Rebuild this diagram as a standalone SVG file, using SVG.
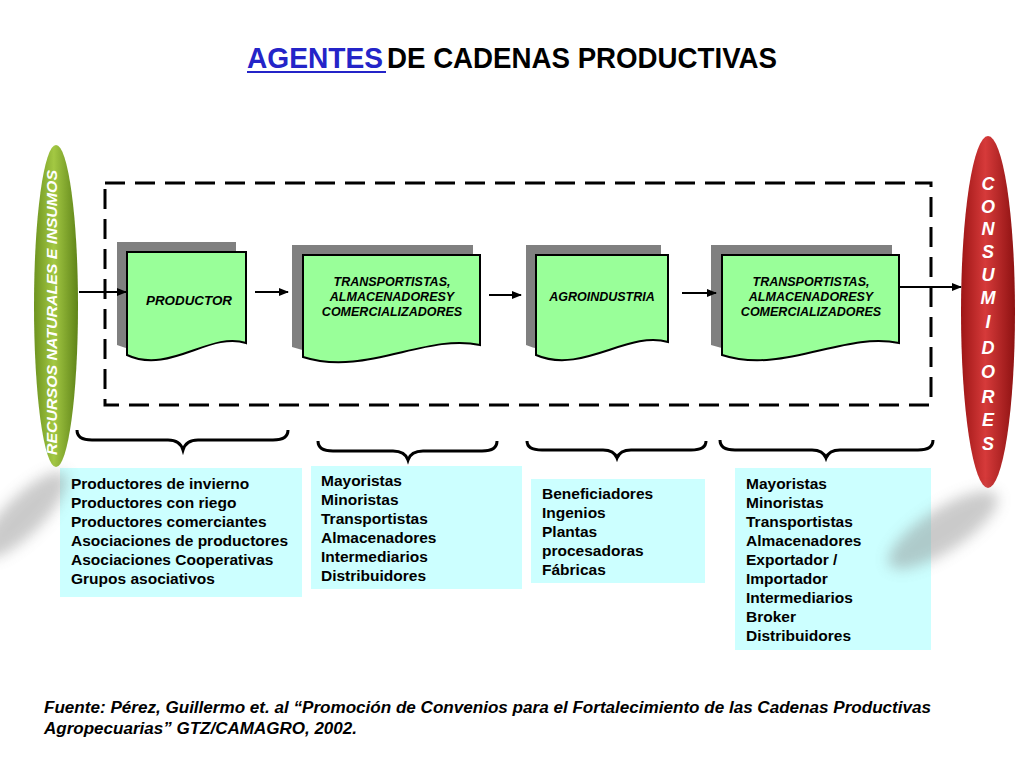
<svg xmlns="http://www.w3.org/2000/svg" width="1024" height="768" viewBox="0 0 1024 768">
<defs>
<style>
.title{font-family:"Liberation Sans",Arial,sans-serif;font-weight:bold;font-size:30px}
.node{fill:#99ff99;stroke:#000;stroke-width:2}
.shadow{fill:#808080}
.ntxt{font-family:"Liberation Sans",Arial,sans-serif;font-weight:bold;font-style:italic;font-size:12.5px;fill:#000;text-anchor:middle}
.box{fill:#ccffff}
.btxt{font-family:"Liberation Sans",Arial,sans-serif;font-weight:bold;font-size:15.5px;fill:#000}
.conn{stroke:#000;stroke-width:2;fill:none}
.brace{stroke:#000;stroke-width:3;fill:none}
.pilltxt{font-family:"Liberation Sans",Arial,sans-serif;font-weight:bold;font-style:italic;fill:#fff}
.foot{font-family:"Liberation Sans",Arial,sans-serif;font-weight:bold;font-style:italic;font-size:16px;fill:#000}
</style>
<marker id="arr" markerWidth="10" markerHeight="10" refX="9" refY="5" orient="auto" markerUnits="userSpaceOnUse">
<path d="M0,1 L10,5 L0,9 Z" fill="#000"/>
</marker>
<linearGradient id="gGreen" x1="0" y1="0" x2="1" y2="0">
<stop offset="0" stop-color="#6e9420"/>
<stop offset="0.45" stop-color="#a3c843"/>
<stop offset="1" stop-color="#5f8418"/>
</linearGradient>
<linearGradient id="gRed" x1="0" y1="0" x2="1" y2="0">
<stop offset="0" stop-color="#9e1616"/>
<stop offset="0.45" stop-color="#d63a3a"/>
<stop offset="1" stop-color="#8e1212"/>
</linearGradient>
<filter id="blur" x="-50%" y="-50%" width="200%" height="200%">
<feGaussianBlur stdDeviation="7"/>
</filter>
</defs>
<rect width="1024" height="768" fill="#fff"/>

<g id="title">
<text class="title" x="247" y="68" fill="#2424c8" textLength="136" lengthAdjust="spacingAndGlyphs">AGENTES</text>
<line x1="247" y1="72" x2="386" y2="72" stroke="#2424c8" stroke-width="2"/>
<text class="title" x="387" y="68" fill="#000" textLength="390" lengthAdjust="spacingAndGlyphs">DE CADENAS PRODUCTIVAS</text>
</g>

<rect x="105" y="183" width="826" height="222" fill="none" stroke="#000" stroke-width="3" stroke-dasharray="20,10"/>

<g id="recursos">
<ellipse cx="56" cy="306" rx="22" ry="161" fill="url(#gGreen)"/>
<text class="pilltxt" font-size="14" transform="translate(57,455) rotate(-90)" textLength="285" lengthAdjust="spacingAndGlyphs">RECURSOS NATURALES E INSUMOS</text>
</g>

<g id="consumidores">
<ellipse cx="988" cy="312" rx="27" ry="176" fill="url(#gRed)"/>
<g class="pilltxt" font-size="18" text-anchor="middle">
<text x="988" y="190">C</text>
<text x="988" y="213">O</text>
<text x="988" y="235">N</text>
<text x="988" y="258">S</text>
<text x="988" y="281">U</text>
<text x="988" y="304">M</text>
<text x="988" y="328">I</text>
<text x="988" y="354">D</text>
<text x="988" y="378">O</text>
<text x="988" y="403">R</text>
<text x="988" y="426">E</text>
<text x="988" y="450">S</text>
</g>
</g>

<g id="productor">
<path class="shadow" d="M117,242 H236 V335 C205,325 165,365 117,345 Z"/>
<path class="node" d="M127,252 H246 V343 C210,331 169,375 127,355 Z"/>
<text class="ntxt" x="189" y="305" font-size="14.5" textLength="86" lengthAdjust="spacingAndGlyphs">PRODUCTOR</text>
</g>

<g id="transportistas1">
<path class="shadow" d="M292,245 H473 V337 C420,325 355,368 292,347 Z"/>
<path class="node" d="M303,255 H480 V345 C426,333 365,377 303,357 Z"/>
<text class="ntxt" x="392" y="286">TRANSPORTISTAS,</text>
<text class="ntxt" x="392" y="301">ALMACENADORESY</text>
<text class="ntxt" x="392" y="316">COMERCIALIZADORES</text>
</g>

<g id="agroindustria">
<path class="shadow" d="M526,245 H661 V332 C622,320 575,365 526,345 Z"/>
<path class="node" d="M536,255 H668 V342 C628,330 582,375 536,355 Z"/>
<text class="ntxt" x="602" y="301">AGROINDUSTRIA</text>
</g>

<g id="transportistas2">
<path class="shadow" d="M711,245 H892 V333 C838,321 773,365 711,345 Z"/>
<path class="node" d="M722,255 H899 V343 C845,331 783,375 722,355 Z"/>
<text class="ntxt" x="811" y="286">TRANSPORTISTAS,</text>
<text class="ntxt" x="811" y="301">ALMACENADORESY</text>
<text class="ntxt" x="811" y="316">COMERCIALIZADORES</text>
</g>

<g id="connectors">
<line class="conn" x1="79" y1="292" x2="126" y2="292" marker-end="url(#arr)"/>
<line class="conn" x1="255" y1="292" x2="288" y2="292" marker-end="url(#arr)"/>
<line class="conn" x1="489" y1="295" x2="521" y2="295" marker-end="url(#arr)"/>
<line class="conn" x1="682" y1="293" x2="716" y2="293" marker-end="url(#arr)"/>
<line class="conn" x1="899" y1="287" x2="961" y2="287" marker-end="url(#arr)"/>
</g>

<g id="braces">
<path class="brace" d="M77,430 Q77,440 92,440 H168 Q180,440 183,450 Q186,440 198,440 H273 Q288,440 288,430"/>
<path class="brace" d="M318,441 Q318,451 333,451 H393 Q405,451 408,460 Q411,451 423,451 H482 Q497,451 497,441"/>
<path class="brace" d="M527,441 Q527,450 542,450 H603 Q614,450 617,458 Q620,450 631,450 H691 Q706,450 706,441"/>
<path class="brace" d="M720,440 Q720,450 735,450 H812 Q823,450 826,458 Q829,450 840,450 H918 Q933,450 933,440"/>
</g>

<g id="lista1">
<rect class="box" x="60" y="468" width="242" height="129"/>
<text class="btxt" x="71" y="489">Productores de invierno</text>
<text class="btxt" x="71" y="508">Productores con riego</text>
<text class="btxt" x="71" y="527">Productores comerciantes</text>
<text class="btxt" x="71" y="546">Asociaciones de productores</text>
<text class="btxt" x="71" y="565">Asociaciones Cooperativas</text>
<text class="btxt" x="71" y="584">Grupos asociativos</text>
</g>

<g id="lista2">
<rect class="box" x="311" y="466" width="211" height="123"/>
<text class="btxt" x="321" y="486">Mayoristas</text>
<text class="btxt" x="321" y="505">Minoristas</text>
<text class="btxt" x="321" y="524">Transportistas</text>
<text class="btxt" x="321" y="543">Almacenadores</text>
<text class="btxt" x="321" y="562">Intermediarios</text>
<text class="btxt" x="321" y="581">Distribuidores</text>
</g>

<g id="lista3">
<rect class="box" x="531" y="479" width="174" height="104"/>
<text class="btxt" x="542" y="499">Beneficiadores</text>
<text class="btxt" x="542" y="518">Ingenios</text>
<text class="btxt" x="542" y="537">Plantas</text>
<text class="btxt" x="542" y="556">procesadoras</text>
<text class="btxt" x="542" y="575">Fábricas</text>
</g>

<g id="lista4">
<rect class="box" x="735" y="468" width="196" height="182"/>
<text class="btxt" x="746" y="489">Mayoristas</text>
<text class="btxt" x="746" y="508">Minoristas</text>
<text class="btxt" x="746" y="527">Transportistas</text>
<text class="btxt" x="746" y="546">Almacenadores</text>
<text class="btxt" x="746" y="565">Exportador /</text>
<text class="btxt" x="746" y="584">Importador</text>
<text class="btxt" x="746" y="603">Intermediarios</text>
<text class="btxt" x="746" y="622">Broker</text>
<text class="btxt" x="746" y="641">Distribuidores</text>
</g>

<g id="sombras" filter="url(#blur)" opacity="0.45">
<ellipse cx="24" cy="515" rx="58" ry="19" fill="#8a8a8a" transform="rotate(-45 24 515)"/>
<ellipse cx="943" cy="530" rx="64" ry="21" fill="#8a8a8a" transform="rotate(-33 943 530)"/>
</g>

<g id="fuente">
<text class="foot" x="44" y="713" textLength="887" lengthAdjust="spacingAndGlyphs">Fuente: Pérez, Guillermo et. al “Promoción de Convenios para el Fortalecimiento de las Cadenas Productivas</text>
<text class="foot" x="44" y="734" textLength="313" lengthAdjust="spacingAndGlyphs">Agropecuarias” GTZ/CAMAGRO, 2002.</text>
</g>
</svg>
